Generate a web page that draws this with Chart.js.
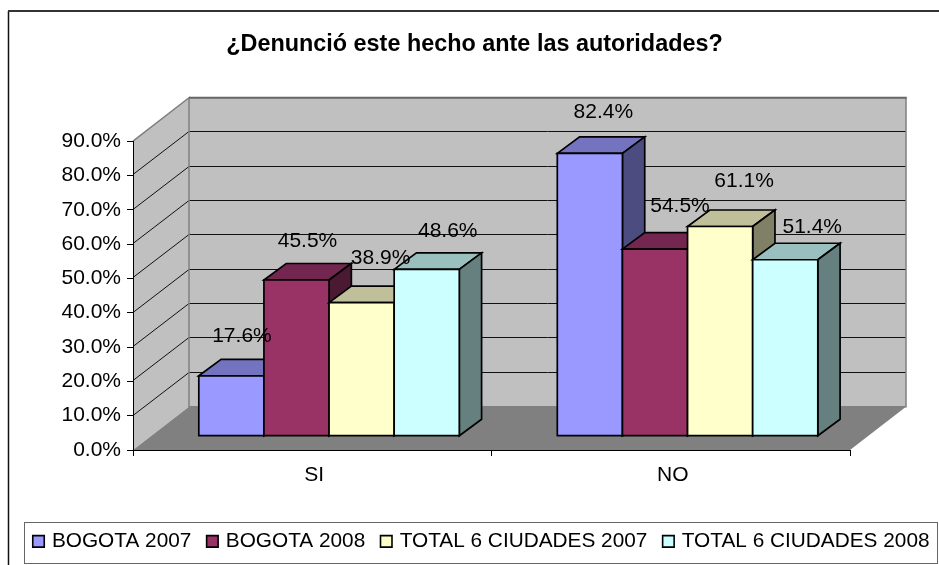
<!DOCTYPE html>
<html>
<head>
<meta charset="utf-8">
<style>html,body{margin:0;padding:0;background:#fff}canvas{display:block}</style>
<script src="https://cdn.jsdelivr.net/npm/chart.js@4"></script>
</head>
<body>
<canvas id="c" width="939" height="565"></canvas>
<script>
const chartTitle = '¿Denunció este hecho ante las autoridades?';
const categories = ['SI', 'NO'];
const seriesNames = ['BOGOTA 2007', 'BOGOTA 2008', 'TOTAL 6 CIUDADES 2007', 'TOTAL 6 CIUDADES 2008'];
const bogota2007 = [17.6, 82.4];
const bogota2008 = [45.5, 54.5];
const total2007 = [38.9, 61.1];
const total2008 = [48.6, 51.4];
const seriesValues = [bogota2007, bogota2008, total2007, total2008];
const frontColors = ['#9999FF', '#993366', '#FFFFCC', '#CCFFFF'];
const topColors = ['#7373BF', '#732650', '#BFBF99', '#99BFBF'];
const sideColors = ['#4C4C80', '#4C1933', '#808066', '#668080'];

const FONT = '"Liberation Sans", Arial, sans-serif';
const WALL = {dx: 56, dy: -43.3};     // depth of the box
const PLANE = {dx: 16.8, dy: -13.8};  // where the bars stand on the floor
const BAR = {dx: 22.3, dy: -16.5};    // depth of each bar
const EDGE = 1.7;
// Excel's own label placement relative to the bar's front top centre [series][category]
const labelNudge = [
  [[10.6, -39.5], [13.5, -41]],
  [[11, -39.3], [25, -43]],
  [[19, -44], [24, -45]],
  [[21, -38.5], [27, -33]]
];

function poly(ctx, pts, fill, stroke, lw) {
  ctx.beginPath();
  pts.forEach((p, i) => i ? ctx.lineTo(p[0], p[1]) : ctx.moveTo(p[0], p[1]));
  ctx.closePath();
  if (fill) { ctx.fillStyle = fill; ctx.fill(); }
  if (stroke) { ctx.strokeStyle = stroke; ctx.lineWidth = lw; ctx.lineJoin = 'miter'; ctx.stroke(); }
}

const box3d = {
  id: 'box3d',
  afterLayout(chart) {
    chart.titleBlock.left = 10;
    chart.titleBlock.right = 939;
    chart.legend.left = 17.5;
    chart.legend.right = 1000;
    chart.legend.top = 513;
  },
  beforeDraw(chart) {
    const ctx = chart.ctx, a = chart.chartArea, y = chart.scales.y;
    const L = a.left, R = a.right, T = a.top, B = a.bottom;
    const dx = WALL.dx, dy = WALL.dy;
    ctx.save();
    ctx.fillStyle = '#fff'; ctx.fillRect(0, 0, 939, 565);
    // outer frame: its right and bottom edges lie outside the picture
    ctx.strokeStyle = '#111'; ctx.lineWidth = 1.5;
    ctx.beginPath(); ctx.moveTo(8.5, 565); ctx.lineTo(8.5, 11); ctx.stroke();
    ctx.strokeStyle = '#333'; ctx.lineWidth = 2;
    ctx.beginPath(); ctx.moveTo(8, 11); ctx.lineTo(939, 11); ctx.stroke();
    // walls and floor
    poly(ctx, [[L, T], [L + dx, T + dy], [L + dx, B + dy], [L, B]], '#C0C0C0');
    poly(ctx, [[L + dx, T + dy], [R + dx, T + dy], [R + dx, B + dy], [L + dx, B + dy]], '#C0C0C0');
    poly(ctx, [[L, B], [L + dx, B + dy], [R + dx, B + dy], [R, B]], '#808080');
    // gridlines
    ctx.strokeStyle = '#111'; ctx.lineWidth = 1;
    y.ticks.forEach(t => {
      if (t.value === 0 || t.value === y.max) return;
      const p = Math.round(y.getPixelForValue(t.value)) - 0.5;
      const q = Math.round(p + dy) + 0.5;
      ctx.beginPath();
      ctx.moveTo(L, p); ctx.lineTo(L + dx, q); ctx.lineTo(R + dx, q);
      ctx.stroke();
    });
    // wall edges
    ctx.strokeStyle = '#808080'; ctx.lineWidth = 1.5;
    ctx.beginPath();
    ctx.moveTo(L, T); ctx.lineTo(L + dx, T + dy); ctx.lineTo(L + dx, B + dy);
    ctx.lineTo(R + dx, B + dy); ctx.lineTo(R + dx, T + dy);
    ctx.stroke();
    ctx.strokeStyle = '#666'; ctx.lineWidth = 2;
    ctx.beginPath(); ctx.moveTo(L + dx, T + dy); ctx.lineTo(R + dx + 0.75, T + dy); ctx.stroke();
    ctx.restore();
  },
  beforeDatasetDraw() { return false; },  // drawn below, back to front
  afterDatasetsDraw(chart) {
    const ctx = chart.ctx;
    ctx.save();
    ctx.translate(PLANE.dx, PLANE.dy);
    seriesValues.forEach((_, d) => {
      chart.getDatasetMeta(d).data.forEach(el => {
        const {x, y, base, width} = el.getProps(['x', 'y', 'base', 'width'], true);
        const l = x - width / 2, r = x + width / 2;
        poly(ctx, [[l, y], [l + BAR.dx, y + BAR.dy], [r + BAR.dx, y + BAR.dy], [r, y]], topColors[d], '#000', EDGE);
        poly(ctx, [[r, y], [r + BAR.dx, y + BAR.dy], [r + BAR.dx, base + BAR.dy], [r, base]], sideColors[d], '#000', EDGE);
        el.draw(ctx, chart.chartArea);
        poly(ctx, [[l, y], [r, y], [r, base], [l, base]], null, '#000', EDGE);
      });
    });
    ctx.restore();
    // value labels
    ctx.save();
    ctx.font = '21px ' + FONT;
    ctx.fillStyle = '#000';
    ctx.textAlign = 'center';
    ctx.textBaseline = 'middle';
    seriesValues.forEach((vals, d) => {
      chart.getDatasetMeta(d).data.forEach((el, i) => {
        const n = labelNudge[d][i];
        ctx.fillText(vals[i].toFixed(1) + '%', el.x + PLANE.dx + n[0], el.y + PLANE.dy + n[1]);
      });
    });
    ctx.restore();
  },
  afterDraw(chart) {
    const ctx = chart.ctx;
    ctx.save();
    ctx.strokeStyle = '#666'; ctx.lineWidth = 1;
    ctx.strokeRect(24.5, 522.5, 913, 41);
    ctx.restore();
  }
};

new Chart(document.getElementById('c'), {
  type: 'bar',
  plugins: [box3d],
  data: {
    labels: categories,
    datasets: seriesNames.map((name, i) => ({
      label: name,
      data: seriesValues[i],
      backgroundColor: frontColors[i],
      borderWidth: 0,
      pointStyle: 'rect',
      categoryPercentage: 0.7266,
      barPercentage: 1
    }))
  },
  options: {
    responsive: false,
    animation: false,
    events: [],
    layout: {padding: {left: 0, right: 0, top: 1, bottom: 0}},
    font: {family: FONT},
    scales: {
      x: {
        grid: {offset: true, drawOnChartArea: false, drawTicks: true, tickLength: 6, tickColor: '#000', color: '#000'},
        border: {color: '#000', width: 1},
        ticks: {color: '#000', padding: 7, labelOffset: 2, font: {family: FONT, size: 21}, maxRotation: 0},
        afterFit(s) { s.height = 66.2; }
      },
      y: {
        min: 0, max: 90,
        grid: {drawOnChartArea: false, drawTicks: true, tickLength: 6, tickColor: '#000', color: '#000'},
        border: {color: '#000', width: 1},
        ticks: {stepSize: 10, color: '#000', padding: 6, font: {family: FONT, size: 21},
                callback: v => v.toFixed(1) + '%'},
        afterFit(s) { s.width = 133; }
      },
      yR: {
        position: 'right', display: true,
        grid: {display: false}, border: {display: false}, ticks: {display: false},
        afterFit(s) { s.width = 89; }
      }
    },
    plugins: {
      tooltip: {enabled: false},
      title: {
        display: true, text: chartTitle, color: '#000',
        font: {family: FONT, size: 23.4, weight: 'bold'},
        padding: {top: 30, bottom: 82}
      },
      legend: {
        position: 'bottom', align: 'start',
        labels: {
          color: '#000', font: {family: FONT, size: 20.8},
          usePointStyle: true, boxWidth: 6, boxHeight: 11.5, padding: 18,
          generateLabels(chart) {
            return chart.data.datasets.map((ds, i) => ({
              text: ds.label, fillStyle: ds.backgroundColor, strokeStyle: '#000',
              lineWidth: 1.6, pointStyle: 'rect', datasetIndex: i, fontColor: '#000'
            }));
          }
        }
      }
    }
  }
});
</script>
</body>
</html>
